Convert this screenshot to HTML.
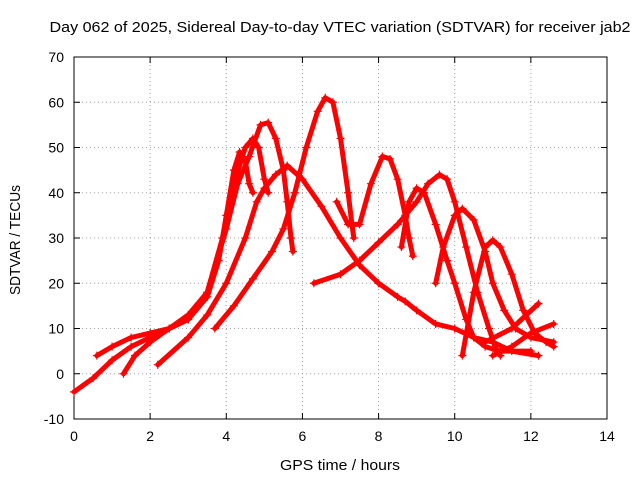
<!DOCTYPE html>
<html><head><meta charset="utf-8"><style>
html,body{margin:0;padding:0;background:#fff}
svg{display:block;font-family:"Liberation Sans",sans-serif}
</style></head><body>
<svg id="chart" width="640" height="480">
<g id="grid"></g>
<g id="axes"></g>
<g id="series"></g>
<text x="340" y="32" text-anchor="middle" font-size="15" textLength="581" lengthAdjust="spacingAndGlyphs">Day 062 of 2025, Sidereal Day-to-day VTEC variation (SDTVAR) for receiver jab2</text>
<text x="340" y="470" text-anchor="middle" font-size="15" textLength="120" lengthAdjust="spacingAndGlyphs">GPS time / hours</text>
<text x="20" y="240" text-anchor="middle" font-size="15" textLength="110" lengthAdjust="spacingAndGlyphs" transform="rotate(-90 20 240)">SDTVAR / TECUs</text>
</svg>
<script>
const xTicks=[0,2,4,6,8,10,12,14];
const yTicks=[-10,0,10,20,30,40,50,60,70];
const arcA=[[0,-4],[0.5,-1],[1,3],[1.5,6],[2,8],[2.5,10],[3,12],[3.5,17],[3.8,25],[4.0,35],[4.2,45],[4.35,49],[4.5,47],[4.6,42],[4.7,40]];
const arcB=[[0.6,4],[1,6],[1.5,8],[2,9],[2.5,10],[3,12],[3.5,18],[3.9,30],[4.2,42],[4.5,50],[4.7,52],[4.85,50],[5,43],[5.1,40]];
const arcC=[[1.3,0],[1.6,4],[2,7],[2.5,10],[3,13],[3.5,18],[4,32],[4.3,42],[4.6,48],[4.9,55],[5.1,55.5],[5.3,52],[5.5,45],[5.6,38],[5.7,30],[5.75,27]];
const arcD=[[3.7,10],[4.2,15],[4.7,21],[5.2,27],[5.5,32],[5.8,40],[6.1,50],[6.4,58],[6.6,61],[6.8,60],[7,52],[7.2,40],[7.3,33],[7.35,30]];
const arcE=[[2.2,2],[3,8],[3.5,13],[4,20],[4.5,30],[4.8,38],[5,41],[5.3,44],[5.6,46],[6,43],[6.5,37],[7,30],[7.5,24],[8,20],[8.5,17],[8.7,16],[9,14],[9.5,11],[10,10],[10.5,8],[11,7],[11.5,5],[12.2,4]];
const arcF=[[6.9,38],[7.2,33],[7.5,33],[7.8,42],[8.1,48],[8.3,47.5],[8.5,43],[8.7,35],[8.8,30],[8.9,26]];
const arcG=[[6.3,20],[7,22],[7.5,25],[8,29],[8.5,33],[9,38],[9.3,42],[9.6,44],[9.8,43],[10,38],[10.3,28],[10.6,18],[10.9,10],[11.1,5],[11.2,4]];
const arcH=[[8.6,28],[8.8,38],[9,41],[9.2,40],[9.5,33],[9.8,25],[10,20],[10.3,12],[10.5,8],[10.8,6],[11.2,5],[12,5]];
const arcI=[[9.5,20],[9.7,28],[10,35],[10.2,36.5],[10.5,34],[10.8,27],[11,20],[11.3,14],[11.6,10],[12,8],[12.6,7]];
const arcJ=[[10.2,4],[10.5,18],[10.8,28],[11,29.5],[11.2,28],[11.5,22],[11.8,14],[12.1,9],[12.4,7],[12.6,6]];
const arcK=[[10.8,7],[11.5,10],[12.2,15.5]];
const arcL=[[11,4],[11.5,6],[12,9],[12.6,11]];
const arcs=[arcA,arcB,arcC,arcD,arcE,arcF,arcG,arcH,arcI,arcJ,arcK,arcL];
const L=74,R=607,T=57,B=419,xmin=0,xmax=14,ymin=-10,ymax=70;
const sx=v=>L+(v-xmin)/(xmax-xmin)*(R-L);
const sy=v=>B-(v-ymin)/(ymax-ymin)*(B-T);
const NS='http://www.w3.org/2000/svg';
function mk(tag,attrs,parent){const e=document.createElementNS(NS,tag);for(const k in attrs)e.setAttribute(k,attrs[k]);parent.appendChild(e);return e;}
const grid=document.getElementById('grid'),axes=document.getElementById('axes'),series=document.getElementById('series');
xTicks.forEach(t=>{const x=sx(t);
 if(t>xmin&&t<xmax){const g=mk('line',{x1:x,x2:x,y1:T,y2:B,stroke:'#a0a0a0','stroke-dasharray':'1,3'},grid);
 
 }
 mk('line',{x1:x,x2:x,y1:B,y2:B-6,stroke:'#000'},axes);mk('line',{x1:x,x2:x,y1:T,y2:T+6,stroke:'#000'},axes);
 const l=mk('text',{x:x,y:B+22,'text-anchor':'middle','font-size':14},axes);l.textContent=t;
 
 });
yTicks.forEach(t=>{const y=sy(t);
 if(t>ymin&&t<ymax){const g=mk('line',{x1:L,x2:R,y1:y,y2:y,stroke:'#a0a0a0','stroke-dasharray':'1,3'},grid);
 
 }
 mk('line',{x1:L,x2:L+6,y1:y,y2:y,stroke:'#000'},axes);mk('line',{x1:R,x2:R-6,y1:y,y2:y,stroke:'#000'},axes);
 const l=mk('text',{x:L-10,y:y+5,'text-anchor':'end','font-size':14},axes);l.textContent=t;
 
 });
const fr=mk('rect',{x:L,y:T,width:R-L,height:B-T,fill:'none',stroke:'#000'},axes);


arcs.forEach((a,i)=>{const g=mk('g',{},series);
 
 
 mk('polyline',{points:a.map(p=>sx(p[0])+','+sy(p[1])).join(' '),fill:'none',stroke:'#ff0000','stroke-width':5,'stroke-linejoin':'round','stroke-linecap':'round'},g);
 a.forEach(p=>{const x=sx(p[0]),y=sy(p[1]);
  const m=mk('path',{d:`M${x-4},${y}H${x+4}M${x},${y-4}V${y+4}`,stroke:'#ff0000','stroke-width':1.2},g);
  
  });});
</script>
</body></html>
